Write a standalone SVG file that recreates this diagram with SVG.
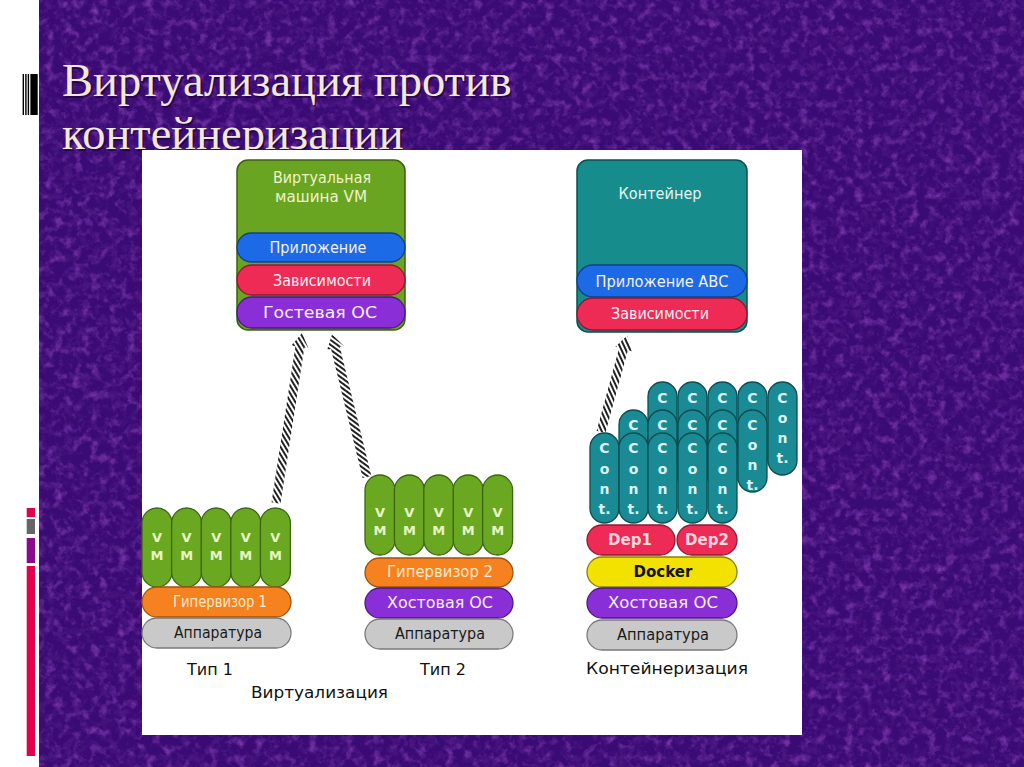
<svg xmlns="http://www.w3.org/2000/svg" width="1024" height="767" viewBox="0 0 1024 767">
<defs>
<filter id="tex" x="0" y="0" width="100%" height="100%">
  <feTurbulence type="fractalNoise" baseFrequency="0.11" numOctaves="4" seed="7" result="n"/>
  <feColorMatrix in="n" type="matrix" values="0 0 0 0 0.42  0 0 0 0 0.10  0 0 0 0 0.70  1.3 0 0 0 -0.66" result="light"/>
  <feColorMatrix in="n" type="matrix" values="0 0 0 0 0.12  0 0 0 0 0.02  0 0 0 0 0.28  0 1.3 0 0 -0.60" result="dark"/>
  <feMerge><feMergeNode in="dark"/><feMergeNode in="light"/></feMerge>
</filter>
<pattern id="hatch" patternUnits="userSpaceOnUse" width="4" height="4" patternTransform="rotate(50)">
  <rect width="4" height="4" fill="#ffffff"/>
  <rect width="2" height="4" fill="#222222"/>
</pattern>
<style>
  .title { font-family: "Liberation Serif", "Times New Roman", serif; font-size: 46.5px; fill: #f1e7da; }
  .shadow { font-family: "Liberation Serif", "Times New Roman", serif; font-size: 46.5px; fill: #12042a; opacity: 0.6; }
  .t { font-family: "DejaVu Sans", "Liberation Sans", sans-serif; text-anchor: middle; font-size: 15px; }
  .lt { fill: #f6f0f6; }
  .dk { fill: #1a1a1a; }
  .cap { font-family: "DejaVu Sans", "Liberation Sans", sans-serif; font-size: 16px; fill: #111111; }
  .vmp { fill: #6aa822; stroke: #3b6512; stroke-width: 1.3; }
  .vmt { font-family: "DejaVu Sans", "Liberation Sans", sans-serif; font-size: 13px; font-weight: bold; fill: #e8f5c4; text-anchor: middle; }
  .cp { fill: #1a8b94; stroke: #0c4d52; stroke-width: 1.3; }
  .ct { font-family: "DejaVu Sans", "Liberation Sans", sans-serif; font-size: 14px; font-weight: bold; fill: #d9f3f4; text-anchor: middle; }
  .blue { fill: #1d6ae6; stroke: #163f8c; stroke-width: 1.3; }
  .red { fill: #ee2b55; stroke: #8c1a33; stroke-width: 1.3; }
  .purple { fill: #8a2fd8; stroke: #4a1a80; stroke-width: 1.3; }
  .orange { fill: #f5821f; stroke: #a0520f; stroke-width: 1.3; }
  .grey { fill: #c9c9c9; stroke: #7a7a7a; stroke-width: 1.3; }
  .yellow { fill: #f3e100; stroke: #8a7f00; stroke-width: 1.3; }
  .arrow { fill: url(#hatch); stroke: none; }
</style>
</defs>

<!-- slide background -->
<rect x="0" y="0" width="1024" height="767" fill="#ffffff"/>
<rect x="39" y="0" width="985" height="767" fill="#3a0b74"/>
<rect x="39" y="0" width="985" height="767" filter="url(#tex)"/>

<!-- left decorations -->
<g id="barcode" fill="#000000">
  <rect x="22.6" y="74" width="1.4" height="41"/>
  <rect x="25.2" y="74" width="1.4" height="41"/>
  <rect x="27.7" y="74" width="1.4" height="41"/>
  <rect x="30.4" y="74" width="7.3" height="41"/>
</g>
<g id="side-bars">
  <rect x="26.7" y="508" width="8.3" height="9" fill="#e0004e"/>
  <rect x="26.7" y="519" width="8.3" height="15" fill="#666666"/>
  <rect x="26.7" y="538" width="8.3" height="25" fill="#8b0a8b"/>
  <rect x="26.7" y="566" width="8.3" height="190" fill="#e0004e"/>
</g>

<!-- title -->
<g id="title">
  <text class="shadow" x="63.5" y="97.5">Виртуализация против</text>
  <text class="shadow" x="63.5" y="150.5">контейнеризации</text>
  <text class="title" x="62" y="96">Виртуализация против</text>
  <text class="title" x="62" y="149">контейнеризации</text>
</g>

<!-- diagram panel -->
<rect id="panel" x="142" y="150" width="660" height="585" fill="#ffffff"/>

<!-- connectors -->
<g id="connectors">
  <g transform="translate(276,503) rotate(-81.3)">
    <polygon class="arrow" points="0,-4.5 158,-4.5 158,-8.5 172,0 158,8.5 158,4.5 0,4.5"/>
  </g>
  <g transform="translate(367,477) rotate(-103.75)">
    <polygon class="arrow" points="0,-4.5 133,-4.5 133,-8.5 147,0 133,8.5 133,4.5 0,4.5"/>
  </g>
  <g transform="translate(601,432) rotate(-74.8)">
    <polygon class="arrow" points="0,-4.5 86,-4.5 86,-8.5 100,0 86,8.5 86,4.5 0,4.5"/>
  </g>
</g>

<!-- VM box -->
<g id="vm-box">
  <rect x="237" y="160" width="168" height="170" rx="11" fill="#69a521" stroke="#3d5f12" stroke-width="1.5"/>
  <text class="t" x="322" y="183" font-size="14" fill="#eef3cc" textLength="98" lengthAdjust="spacingAndGlyphs">Виртуальная</text>
  <text class="t" x="321" y="202" font-size="14" fill="#eef3cc" textLength="92" lengthAdjust="spacingAndGlyphs">машина  VM</text>
  <rect class="blue" x="237" y="233" width="168" height="29" rx="14.5"/>
  <text class="t lt" x="318" y="253" textLength="97" lengthAdjust="spacingAndGlyphs">Приложение</text>
  <rect class="red" x="237" y="265" width="168" height="30" rx="15"/>
  <text class="t lt" x="322" y="286" textLength="98" lengthAdjust="spacingAndGlyphs">Зависимости</text>
  <rect class="purple" x="237" y="297" width="168" height="31" rx="15"/>
  <text class="t lt" x="320" y="318" textLength="114" lengthAdjust="spacingAndGlyphs">Гостевая ОС</text>
</g>

<!-- Container box -->
<g id="container-box">
  <rect x="577" y="160" width="170" height="172" rx="11" fill="#178c8c" stroke="#0d4f4f" stroke-width="1.5"/>
  <text class="t" x="660" y="199" font-size="14.5" fill="#e4f6f2" textLength="83" lengthAdjust="spacingAndGlyphs">Контейнер</text>
  <rect class="blue" x="577" y="265" width="170" height="32" rx="16"/>
  <text class="t lt" x="662" y="287" textLength="133" lengthAdjust="spacingAndGlyphs">Приложение АВС</text>
  <rect class="red" x="577" y="298" width="170" height="32" rx="16"/>
  <text class="t lt" x="660" y="319" textLength="98" lengthAdjust="spacingAndGlyphs">Зависимости</text>
</g>

<!-- Type 1 -->
<g id="type1">
  <rect class="vmp" x="142" y="508" width="30" height="79" rx="15"/>
  <rect class="vmp" x="171.6" y="508" width="30" height="79" rx="15"/>
  <rect class="vmp" x="201.2" y="508" width="30" height="79" rx="15"/>
  <rect class="vmp" x="230.8" y="508" width="30" height="79" rx="15"/>
  <rect class="vmp" x="260.4" y="508" width="30" height="79" rx="15"/>
  <text class="vmt" x="157" y="542">V</text><text class="vmt" x="157" y="560">M</text>
  <text class="vmt" x="186.6" y="542">V</text><text class="vmt" x="186.6" y="560">M</text>
  <text class="vmt" x="216.2" y="542">V</text><text class="vmt" x="216.2" y="560">M</text>
  <text class="vmt" x="245.8" y="542">V</text><text class="vmt" x="245.8" y="560">M</text>
  <text class="vmt" x="275.4" y="542">V</text><text class="vmt" x="275.4" y="560">M</text>
  <rect class="orange" x="142" y="587" width="149" height="30" rx="15"/>
  <text class="t" x="220" y="607" fill="#ffe8cc" textLength="94" lengthAdjust="spacingAndGlyphs">Гипервизор 1</text>
  <rect class="grey" x="142" y="618" width="149" height="30" rx="15"/>
  <text class="t dk" x="218" y="638" textLength="88" lengthAdjust="spacingAndGlyphs">Аппаратура</text>
  <text class="cap" x="210" y="675" text-anchor="middle">Тип 1</text>
</g>

<!-- Type 2 -->
<g id="type2">
  <rect class="vmp" x="365" y="475" width="30" height="80" rx="15"/>
  <rect class="vmp" x="394.4" y="475" width="30" height="80" rx="15"/>
  <rect class="vmp" x="423.8" y="475" width="30" height="80" rx="15"/>
  <rect class="vmp" x="453.2" y="475" width="30" height="80" rx="15"/>
  <rect class="vmp" x="482.6" y="475" width="30" height="80" rx="15"/>
  <text class="vmt" x="380" y="517">V</text><text class="vmt" x="380" y="535">M</text>
  <text class="vmt" x="409.4" y="517">V</text><text class="vmt" x="409.4" y="535">M</text>
  <text class="vmt" x="438.8" y="517">V</text><text class="vmt" x="438.8" y="535">M</text>
  <text class="vmt" x="468.2" y="517">V</text><text class="vmt" x="468.2" y="535">M</text>
  <text class="vmt" x="497.6" y="517">V</text><text class="vmt" x="497.6" y="535">M</text>
  <rect class="orange" x="365" y="558" width="148" height="29" rx="14.5"/>
  <text class="t" x="440" y="577" fill="#ffe8cc" textLength="106" lengthAdjust="spacingAndGlyphs">Гипервизор 2</text>
  <rect class="purple" x="365" y="588" width="148" height="30" rx="15"/>
  <text class="t lt" x="440" y="608" textLength="106" lengthAdjust="spacingAndGlyphs">Хостовая ОС</text>
  <rect class="grey" x="365" y="619" width="148" height="30" rx="15"/>
  <text class="t dk" x="440" y="639" textLength="90" lengthAdjust="spacingAndGlyphs">Аппаратура</text>
  <text class="cap" x="443" y="675" text-anchor="middle">Тип 2</text>
</g>

<text id="virt-label" class="cap" x="251" y="698" textLength="137" lengthAdjust="spacingAndGlyphs">Виртуализация</text>

<!-- Containerization stack -->
<g id="containers">
  <!-- back row -->
  <rect class="cp" x="648" y="382" width="29" height="93" rx="14.5"/>
  <rect class="cp" x="678" y="382" width="29" height="93" rx="14.5"/>
  <rect class="cp" x="708" y="382" width="29" height="93" rx="14.5"/>
  <rect class="cp" x="738" y="382" width="29" height="93" rx="14.5"/>
  <rect class="cp" x="768" y="382" width="29" height="93" rx="14.5"/>
  <text class="ct" x="662.5" y="403">C</text>
  <text class="ct" x="692.5" y="403">C</text>
  <text class="ct" x="722.5" y="403">C</text>
  <text class="ct" x="752.5" y="403">C</text>
  <text class="ct" x="782.5" y="403">C</text>
  <text class="ct" x="782.5" y="423">o</text>
  <text class="ct" x="782.5" y="443">n</text>
  <text class="ct" x="782.5" y="463">t.</text>
  <!-- middle row -->
  <rect class="cp" x="619" y="410" width="29" height="82" rx="14.5"/>
  <rect class="cp" x="648" y="410" width="29" height="82" rx="14.5"/>
  <rect class="cp" x="678" y="410" width="29" height="82" rx="14.5"/>
  <rect class="cp" x="708" y="410" width="29" height="82" rx="14.5"/>
  <rect class="cp" x="738" y="410" width="29" height="82" rx="14.5"/>
  <text class="ct" x="633.5" y="430">C</text>
  <text class="ct" x="662.5" y="430">C</text>
  <text class="ct" x="692.5" y="430">C</text>
  <text class="ct" x="722.5" y="430">C</text>
  <text class="ct" x="752.5" y="430">C</text>
  <text class="ct" x="752.5" y="450">o</text>
  <text class="ct" x="752.5" y="470">n</text>
  <text class="ct" x="752.5" y="490">t.</text>
  <!-- front row -->
  <rect class="cp" x="590" y="433" width="29" height="90" rx="14.5"/>
  <rect class="cp" x="619" y="433" width="29" height="90" rx="14.5"/>
  <rect class="cp" x="648" y="433" width="29" height="90" rx="14.5"/>
  <rect class="cp" x="678" y="433" width="29" height="90" rx="14.5"/>
  <rect class="cp" x="708" y="433" width="29" height="90" rx="14.5"/>
  <text class="ct" x="604.5" y="453">C</text><text class="ct" x="604.5" y="474">o</text><text class="ct" x="604.5" y="494">n</text><text class="ct" x="604.5" y="514">t.</text>
  <text class="ct" x="633.5" y="453">C</text><text class="ct" x="633.5" y="474">o</text><text class="ct" x="633.5" y="494">n</text><text class="ct" x="633.5" y="514">t.</text>
  <text class="ct" x="662.5" y="453">C</text><text class="ct" x="662.5" y="474">o</text><text class="ct" x="662.5" y="494">n</text><text class="ct" x="662.5" y="514">t.</text>
  <text class="ct" x="692.5" y="453">C</text><text class="ct" x="692.5" y="474">o</text><text class="ct" x="692.5" y="494">n</text><text class="ct" x="692.5" y="514">t.</text>
  <text class="ct" x="722.5" y="453">C</text><text class="ct" x="722.5" y="474">o</text><text class="ct" x="722.5" y="494">n</text><text class="ct" x="722.5" y="514">t.</text>
</g>

<g id="dep1">
  <rect class="red" x="587" y="525" width="88" height="30" rx="15"/>
  <text class="t" x="630" y="545" font-weight="bold" fill="#ffd6e0">Dep1</text>
</g>
<g id="dep2">
  <rect class="red" x="677" y="525" width="60" height="30" rx="15"/>
  <text class="t" x="707" y="545" font-weight="bold" fill="#ffd6e0">Dep2</text>
</g>
<g id="docker">
  <rect class="yellow" x="587" y="557" width="150" height="30" rx="15"/>
  <text class="t" x="663" y="577" font-weight="bold" font-size="15" fill="#111111">Docker</text>
</g>
<g id="host-os-c">
  <rect class="purple" x="587" y="588" width="150" height="30" rx="15"/>
  <text class="t lt" x="663" y="608" textLength="110" lengthAdjust="spacingAndGlyphs">Хостовая ОС</text>
</g>
<g id="hw-c">
  <rect class="grey" x="587" y="620" width="150" height="30" rx="15"/>
  <text class="t dk" x="663" y="640" textLength="92" lengthAdjust="spacingAndGlyphs">Аппаратура</text>
</g>
<text id="cont-label" class="cap" x="586" y="674" textLength="162" lengthAdjust="spacingAndGlyphs">Контейнеризация</text>
</svg>
